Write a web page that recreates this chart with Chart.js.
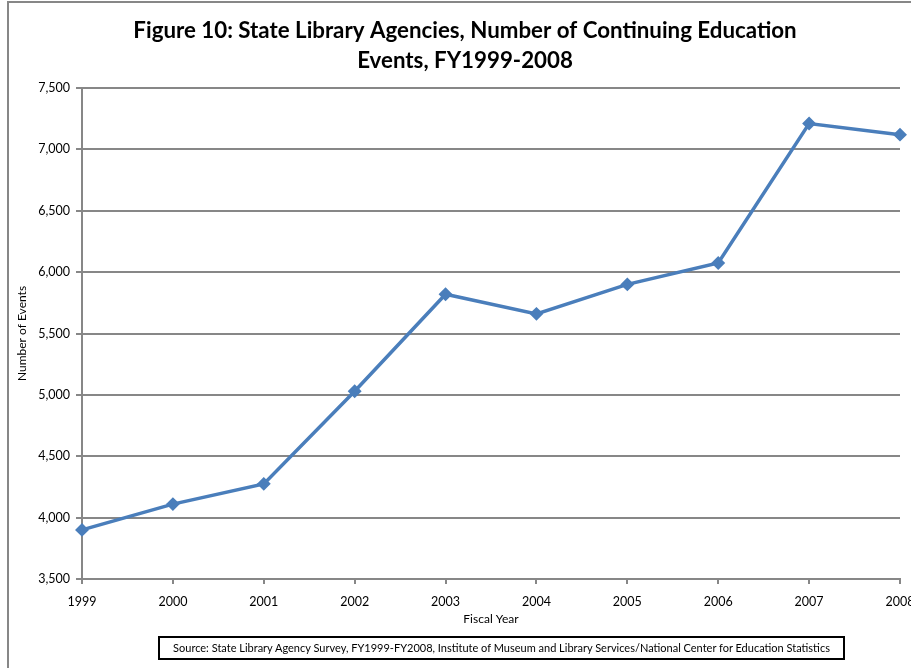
<!DOCTYPE html>
<html>
<head>
<meta charset="utf-8">
<script src="https://cdn.jsdelivr.net/npm/chart.js@4/dist/chart.umd.min.js"></script>
<style>
  body { margin: 0; background: #fff; }
  #frame { position: absolute; left: 7px; top: 1px; width: 1000px; height: 1000px; border: 2px solid #878787; }
  #wrap { position: absolute; left: 0; top: 0; width: 911px; height: 668px; }
  #source {
    position: absolute; left: 158px; top: 636px; width: 683px; height: 20px;
    border: 2px solid #000; font-family: Lato, sans-serif; font-size: 11px;
    line-height: 20px; text-align: center; color: #000; white-space: nowrap;
  }
</style>
</head>
<body>
<div id="frame"></div>
<div id="wrap"><canvas id="chart" width="911" height="668"></canvas></div>
<div id="source">Source: State Library Agency Survey, FY1999-FY2008, Institute of Museum and Library Services/National Center for Education Statistics</div>
<script>
// dữ liệu
const years = ['1999', '2000', '2001', '2002', '2003', '2004', '2005', '2006', '2007', '2008'];
const events = [3900, 4110, 4275, 5030, 5820, 5660, 5900, 6075, 7210, 7120];
const yTicks = [3500, 4000, 4500, 5000, 5500, 6000, 6500, 7000, 7500];
const titleLines = ['Figure 10: State Library Agencies, Number of Continuing Education', 'Events, FY1999-2008'];

// tiêu đề vẽ riêng để canh giữa như hình gốc
const titlePlugin = {
    id: 'titlePlugin',
    afterDraw: function (chart) {
        const c = chart.ctx;
        c.save();
        c.fillStyle = '#000';
        c.font = 'bold 22.3px Lato';
        c.textAlign = 'center';
        c.textBaseline = 'middle';
        c.fillText(titleLines[0], 465, 31);
        c.fillText(titleLines[1], 465, 61);
        c.restore();
    }
};

const ctx = document.getElementById('chart').getContext('2d');
new Chart(ctx, {
    type: 'line',
    data: {
        labels: years,
        datasets: [{
            label: 'Number of Events',
            data: events,
            borderColor: '#4a7ebb',
            backgroundColor: '#4a7ebb',
            borderWidth: 3.5,
            pointStyle: 'rectRot',
            pointRadius: 4.5,
            tension: 0
        }]
    },
    options: {
        responsive: false,
        animation: false,
        layout: { padding: { left: 8, right: 11, top: 88, bottom: 42 } },
        plugins: {
            legend: { display: false },
            tooltip: { enabled: false },
            title: { display: false }
        },
        scales: {
            x: {
                offset: false,
                grid: { drawOnChartArea: false, drawTicks: true, tickLength: 5, color: '#878787', lineWidth: 2 },
                border: { color: '#878787', width: 2 },
                ticks: { color: '#000', font: { family: 'Lato', size: 12.5 }, padding: 10, maxRotation: 0, autoSkip: false },
                title: { display: true, text: 'Fiscal Year', color: '#000', font: { family: 'Lato', size: 12 }, padding: { top: 2, bottom: 0 } },
                afterFit: function (scale) {
                    scale.height = 47;
                    scale.paddingLeft = 0;
                    scale.paddingRight = 0;
                }
            },
            y: {
                min: 3500,
                max: 7500,
                afterBuildTicks: function (scale) {
                    scale.ticks = yTicks.map(v => ({ value: v }));
                },
                grid: { color: '#878787', lineWidth: 2, tickLength: 6 },
                border: { color: '#878787', width: 2 },
                ticks: {
                    color: '#000',
                    font: { family: 'Lato', size: 12.5 },
                    padding: 6,
                    callback: function (value) {
                        return value.toLocaleString('en-US');
                    }
                },
                title: { display: true, text: 'Number of Events', color: '#000', font: { family: 'Lato', size: 12 }, padding: { top: 7, bottom: 0 } },
                afterFit: function (scale) {
                    scale.width = 74;
                    scale.paddingTop = 0;
                    scale.paddingBottom = 0;
                }
            }
        }
    },
    plugins: [titlePlugin]
});
</script>
</body>
</html>
